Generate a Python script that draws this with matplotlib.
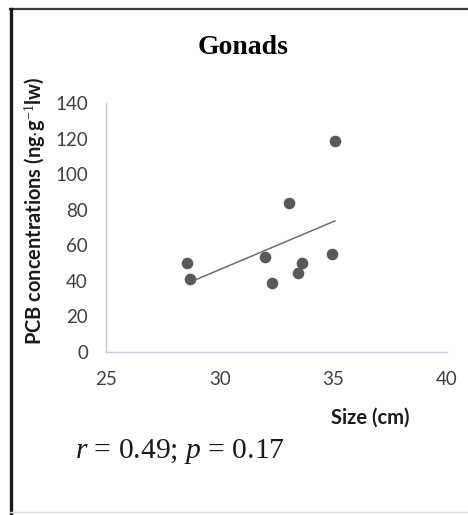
import numpy as np
import matplotlib.pyplot as plt
from matplotlib.lines import Line2D

# ----- Daten -----
size_cm = [28.56, 28.68, 32.0, 32.29, 33.05, 33.43, 33.63, 34.94, 35.07]
pcb_conc = [50.0, 40.8, 53.4, 38.6, 83.5, 44.2, 50.0, 55.0, 118.4]

x_ticks = [25, 30, 35, 40]
y_ticks = [0, 20, 40, 60, 80, 100, 120, 140]

title = "Gonads"
x_label = "Size (cm)"
y_label = r"PCB concentrations (ng$\cdot$g$^{-1}$lw)"
stats_text = r"$r$ = 0.49; $p$ = 0.17"

plt.rcParams["mathtext.fontset"] = "custom"
plt.rcParams["mathtext.rm"] = "Liberation Serif"
plt.rcParams["mathtext.it"] = "Liberation Serif:italic"

W, H = 468, 515
fig = plt.figure(figsize=(W / 100, H / 100), dpi=100)
fig.patch.set_facecolor("white")

# Rahmen
fig.add_artist(Line2D([10 / W, 1], [1 - 9 / H, 1 - 9 / H], color="#3a3a3a", lw=1.6))
fig.add_artist(Line2D([11 / W, 11 / W], [0, 1 - 9 / H], color="#1a1a1a", lw=2.4))
fig.add_artist(Line2D([10 / W, 1], [1 - 512 / H, 1 - 512 / H], color="#dddddd", lw=1))

ax = fig.add_axes([106 / W, 1 - 352 / H, (447 - 106) / W, (352 - 103) / H])
ax.set_facecolor("none")

# Punkte
ax.scatter(size_cm, pcb_conc, s=70, color="#595959", zorder=3, linewidths=0)

# lineare Trendlinie
coef = np.polyfit(size_cm, pcb_conc, 1)
xs = np.array([min(size_cm) + 0.3, max(size_cm)])
ax.plot(xs, np.polyval(coef, xs), color="#6e6e6e", lw=1.1, zorder=2)

ax.set_xlim(25, 40)
ax.set_ylim(0, 140)
ax.set_xticks(x_ticks)
ax.set_yticks(y_ticks)
for s in ["top", "right"]:
    ax.spines[s].set_visible(False)
for s in ["left", "bottom"]:
    ax.spines[s].set_color("#c3cbd8")
    ax.spines[s].set_linewidth(1)
ax.tick_params(length=0, labelsize=13.5, labelcolor="#404040", pad=13)
for lab in ax.get_xticklabels() + ax.get_yticklabels():
    lab.set_family("Lato")
ax.tick_params(axis="x", pad=14)

fig.text(243 / W, 1 - 48 / H, title, ha="center", va="center",
         family="Liberation Serif", weight="bold", fontsize=20)
fig.text(35 / W, 1 - 211 / H, y_label, ha="center", va="center", rotation=90,
         family="Lato", weight="bold", fontsize=14.4, color="#1a1a1a")
fig.text(370 / W, 1 - 418 / H, x_label, ha="center", va="center",
         family="Lato", weight="bold", fontsize=14.5, color="#1a1a1a")
fig.text(75 / W, 1 - 452 / H, stats_text, ha="left", va="center",
         family="Liberation Serif", fontsize=21.3, color="#1a1a1a")

fig.savefig("out.png", dpi=100)
